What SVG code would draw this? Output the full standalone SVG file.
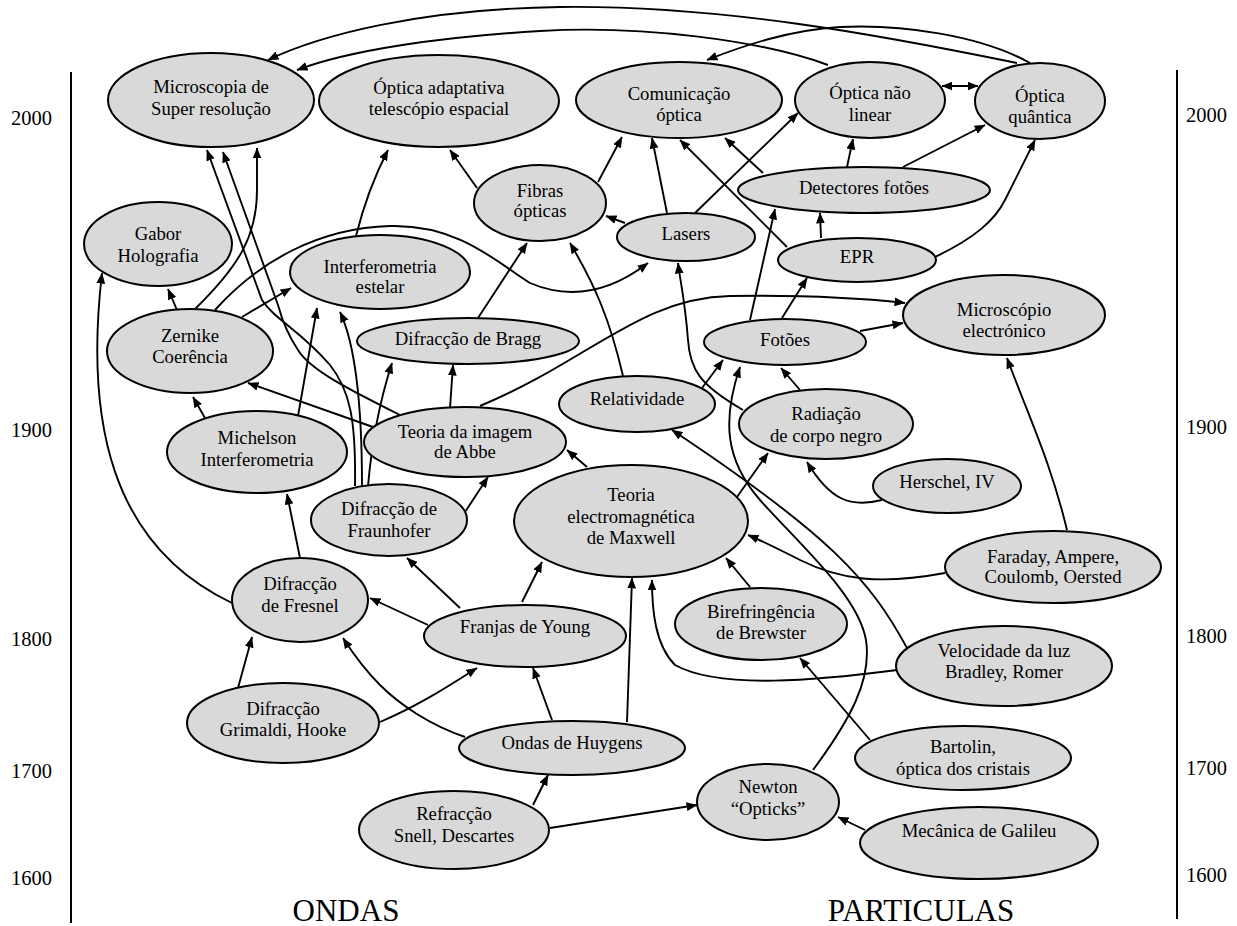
<svg xmlns="http://www.w3.org/2000/svg" width="1237" height="926" viewBox="0 0 1237 926">
<style>
.n ellipse{fill:#d9d9d9;stroke:#000;stroke-width:2}
.n text,.t{font-family:"Liberation Serif","Times New Roman",serif;font-size:18.7px;fill:#000;text-anchor:middle}
.y{font-family:"Liberation Serif","Times New Roman",serif;font-size:20.5px;fill:#000}
.big{font-family:"Liberation Serif","Times New Roman",serif;font-size:31px;fill:#000;text-anchor:middle}
#edges path{fill:none;stroke:#000;stroke-width:1.9;marker-end:url(#a)}
.ax{stroke:#000;stroke-width:2}
</style>
<defs>
<marker id="a" viewBox="0 0 10 8" refX="9.5" refY="4" markerWidth="11" markerHeight="9" markerUnits="userSpaceOnUse" orient="auto-start-reverse"><path d="M0,0 L10,4 L0,8 z" fill="#000"/></marker>
</defs>
<rect width="1237" height="926" fill="#fff"/>
<g id="axes">
<line class="ax" x1="71" y1="72" x2="71" y2="923"/>
<line class="ax" x1="1177" y1="70" x2="1177" y2="919"/>
<text class="y" x="11" y="125">2000</text>
<text class="y" x="11" y="437">1900</text>
<text class="y" x="11" y="646">1800</text>
<text class="y" x="11" y="778">1700</text>
<text class="y" x="11" y="885">1600</text>
<text class="y" x="1186" y="122">2000</text>
<text class="y" x="1186" y="434">1900</text>
<text class="y" x="1186" y="643">1800</text>
<text class="y" x="1186" y="775">1700</text>
<text class="y" x="1186" y="882">1600</text>
<text class="big" x="346" y="921">ONDAS</text>
<text class="big" x="921" y="921">PARTICULAS</text>
</g>
<g id="edges">
<path d="M1017,63 C880,35 720,5 560,7 C420,9 320,35 268,60"/>
<path d="M828,65 C760,40 640,25 540,31 C440,37 350,50 297,70"/>
<path d="M1030,63 C980,35 900,24 840,27 C790,30 745,45 707,60"/>
<path d="M942,86 L978,86" style="marker-start:url(#a)"/>
<path d="M195,309 C240,265 257,235 257,190 L257,148"/>
<path d="M355,486 C356,420 350,390 330,365 C300,330 275,320 262,300 L207,150"/>
<path d="M400,415 C350,390 310,370 298,350 C288,335 282,320 278,305 L223,152"/>
<path d="M177,310 L168,289"/>
<path d="M232,603 C110,545 85,420 102,273"/>
<path d="M242,317 L291,288"/>
<path d="M215,310 C260,260 320,228 390,226 C460,224 500,265 530,283 C570,300 610,292 648,263"/>
<path d="M356,236 C365,200 375,175 388,150"/>
<path d="M205,418 L193,397"/>
<path d="M373,427 L248,383"/>
<path d="M298,416 L317,308"/>
<path d="M362,486 C362,420 358,350 340,312"/>
<path d="M368,486 C372,440 380,400 392,363"/>
<path d="M300,558 L287,494"/>
<path d="M465,512 L488,477"/>
<path d="M450,408 L453,365"/>
<path d="M480,406 C590,360 640,298 730,296 C800,295 860,298 905,303"/>
<path d="M478,318 L527,243"/>
<path d="M623,376 C610,320 595,285 570,243"/>
<path d="M477,188 L450,150"/>
<path d="M598,182 L622,137"/>
<path d="M625,223 L606,216"/>
<path d="M667,213 L652,138"/>
<path d="M695,213 L798,113"/>
<path d="M787,247 L680,140"/>
<path d="M763,173 L725,138"/>
<path d="M847,167 L853,139"/>
<path d="M903,167 L985,125"/>
<path d="M821,238 L820,213"/>
<path d="M935,257 C975,238 995,220 1005,200 C1015,180 1025,160 1035,140"/>
<path d="M750,320 L775,209"/>
<path d="M782,318 L807,278"/>
<path d="M860,331 L903,323"/>
<path d="M702,388 L723,360"/>
<path d="M800,390 L781,368"/>
<path d="M743,410 C700,385 690,370 688,340 C685,300 680,280 678,263"/>
<path d="M813,770 C850,720 872,680 866,640 C858,595 800,545 760,500 C725,460 722,420 740,367"/>
<path d="M587,467 L567,450"/>
<path d="M737,497 L768,453"/>
<path d="M882,500 C850,508 830,500 807,462"/>
<path d="M907,648 C870,580 830,535 672,430"/>
<path d="M897,670 C820,680 720,690 675,665 C655,645 652,610 652,580"/>
<path d="M945,573 C880,585 840,580 800,560 C780,550 765,542 748,535"/>
<path d="M1067,530 C1050,460 1030,420 1007,358"/>
<path d="M870,740 L800,658"/>
<path d="M750,587 L726,558"/>
<path d="M865,830 L838,817"/>
<path d="M550,828 L697,805"/>
<path d="M533,805 L548,775"/>
<path d="M552,720 L533,668"/>
<path d="M627,722 L632,578"/>
<path d="M465,737 C430,725 400,705 380,685 C365,670 352,652 343,638"/>
<path d="M380,722 C420,705 450,685 477,668"/>
<path d="M238,688 L252,637"/>
<path d="M428,625 L370,598"/>
<path d="M460,608 L407,558"/>
<path d="M522,602 L542,562"/>
</g>
<g id="microscopia" class="n"><ellipse cx="211" cy="100" rx="103" ry="47"/><text x="211" y="93">Microscopia de</text><text x="211" y="115">Super resolução</text></g>
<g id="optica-adaptativa" class="n"><ellipse cx="439" cy="101" rx="120" ry="46"/><text x="439" y="94">Óptica adaptativa</text><text x="439" y="115">telescópio espacial</text></g>
<g id="comunicacao" class="n"><ellipse cx="679" cy="100" rx="103" ry="38"/><text x="679" y="100">Comunicação</text><text x="679" y="121">óptica</text></g>
<g id="optica-nao-linear" class="n"><ellipse cx="870" cy="100" rx="75" ry="38"/><text x="870" y="99">Óptica não</text><text x="870" y="121">linear</text></g>
<g id="optica-quantica" class="n"><ellipse cx="1040" cy="101" rx="65" ry="38"/><text x="1040" y="102">Óptica</text><text x="1040" y="123">quântica</text></g>
<g id="detectores" class="n"><ellipse cx="864" cy="190" rx="126" ry="23"/><text x="864" y="194">Detectores fotões</text></g>
<g id="epr" class="n"><ellipse cx="857" cy="260" rx="79" ry="22"/><text x="857" y="263">EPR</text></g>
<g id="fibras" class="n"><ellipse cx="540" cy="203" rx="66" ry="38"/><text x="540" y="197">Fibras</text><text x="540" y="217">ópticas</text></g>
<g id="lasers" class="n"><ellipse cx="686" cy="237" rx="69" ry="24"/><text x="686" y="240">Lasers</text></g>
<g id="gabor" class="n"><ellipse cx="158" cy="244" rx="74" ry="42"/><text x="158" y="240">Gabor</text><text x="158" y="262">Holografia</text></g>
<g id="interf-estelar" class="n"><ellipse cx="380" cy="272" rx="90" ry="37"/><text x="380" y="273">Interferometria</text><text x="380" y="293">estelar</text></g>
<g id="zernike" class="n"><ellipse cx="190" cy="351" rx="83" ry="42"/><text x="190" y="342">Zernike</text><text x="190" y="363">Coerência</text></g>
<g id="bragg" class="n"><ellipse cx="468" cy="341" rx="111" ry="23"/><text x="468" y="345">Difracção de Bragg</text></g>
<g id="microscopio-electronico" class="n"><ellipse cx="1004" cy="315" rx="101" ry="40"/><text x="1004" y="316">Microscópio</text><text x="1004" y="337">electrónico</text></g>
<g id="fotoes" class="n"><ellipse cx="785" cy="342" rx="81" ry="23"/><text x="785" y="346">Fotões</text></g>
<g id="relatividade" class="n"><ellipse cx="637" cy="404" rx="78" ry="28"/><text x="637" y="405">Relatividade</text></g>
<g id="radiacao" class="n"><ellipse cx="826" cy="424" rx="87" ry="35"/><text x="826" y="420">Radiação</text><text x="826" y="442">de corpo negro</text></g>
<g id="michelson" class="n"><ellipse cx="257" cy="452" rx="90" ry="41"/><text x="257" y="444">Michelson</text><text x="257" y="466">Interferometria</text></g>
<g id="abbe" class="n"><ellipse cx="465" cy="442" rx="101" ry="35"/><text x="465" y="438">Teoria da imagem</text><text x="465" y="458">de Abbe</text></g>
<g id="herschel" class="n"><ellipse cx="947" cy="486" rx="74" ry="27"/><text x="947" y="488">Herschel, IV</text></g>
<g id="maxwell" class="n"><ellipse cx="631" cy="521" rx="117" ry="56"/><text x="631" y="501">Teoria</text><text x="631" y="523">electromagnética</text><text x="631" y="544">de Maxwell</text></g>
<g id="fraunhofer" class="n"><ellipse cx="389" cy="520" rx="78" ry="36"/><text x="389" y="515">Difracção de</text><text x="389" y="537">Fraunhofer</text></g>
<g id="faraday" class="n"><ellipse cx="1053" cy="567" rx="108" ry="36"/><text x="1053" y="563">Faraday, Ampere,</text><text x="1053" y="583">Coulomb, Oersted</text></g>
<g id="fresnel" class="n"><ellipse cx="300" cy="600" rx="68" ry="42"/><text x="300" y="590">Difracção</text><text x="300" y="612">de Fresnel</text></g>
<g id="young" class="n"><ellipse cx="525" cy="636" rx="101" ry="31"/><text x="525" y="633">Franjas de Young</text></g>
<g id="brewster" class="n"><ellipse cx="761" cy="624" rx="86" ry="36"/><text x="761" y="618">Birefringência</text><text x="761" y="639">de Brewster</text></g>
<g id="velocidade" class="n"><ellipse cx="1004" cy="666" rx="108" ry="40"/><text x="1004" y="657">Velocidade da luz</text><text x="1004" y="678">Bradley, Romer</text></g>
<g id="grimaldi" class="n"><ellipse cx="283" cy="723" rx="96" ry="40"/><text x="283" y="715">Difracção</text><text x="283" y="736">Grimaldi, Hooke</text></g>
<g id="huygens" class="n"><ellipse cx="572" cy="748" rx="113" ry="27"/><text x="572" y="749">Ondas de Huygens</text></g>
<g id="bartolin" class="n"><ellipse cx="963" cy="758" rx="108" ry="32"/><text x="963" y="753">Bartolin,</text><text x="963" y="775">óptica dos cristais</text></g>
<g id="refraccao" class="n"><ellipse cx="454" cy="830" rx="95" ry="39"/><text x="454" y="820">Refracção</text><text x="454" y="842">Snell, Descartes</text></g>
<g id="newton" class="n"><ellipse cx="768" cy="802" rx="71" ry="38"/><text x="768" y="793">Newton</text><text x="768" y="815">“Opticks”</text></g>
<g id="galileu" class="n"><ellipse cx="979" cy="843" rx="119" ry="36"/><text x="979" y="837">Mecânica de Galileu</text></g>
</svg>
